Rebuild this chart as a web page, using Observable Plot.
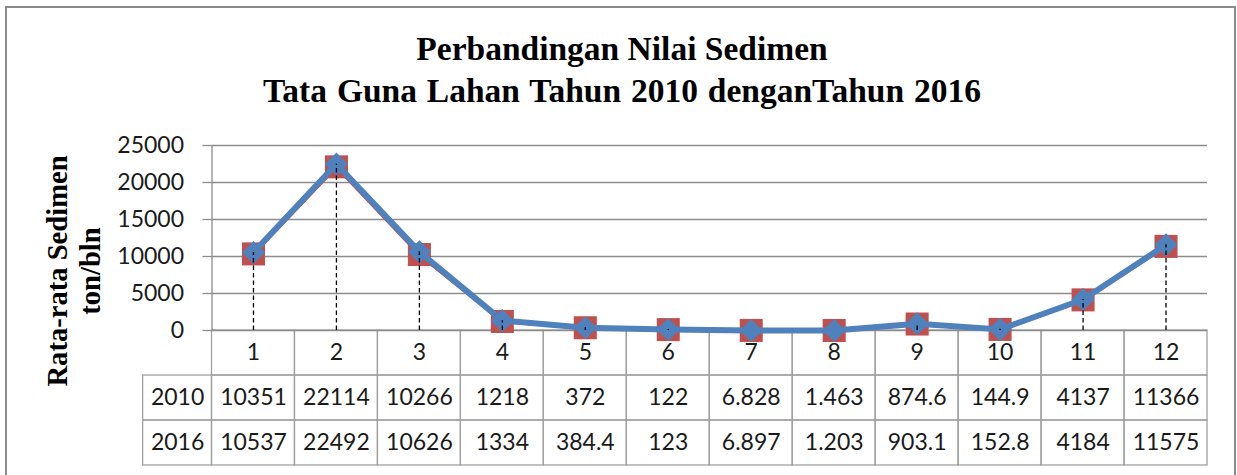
<!DOCTYPE html>
<html>
<head>
<meta charset="utf-8">
<script src="https://cdn.jsdelivr.net/npm/d3@7"></script>
<script src="https://cdn.jsdelivr.net/npm/@observablehq/plot@0.6"></script>
<style>
  html, body { margin: 0; padding: 0; background: #fff; }
  #wrap { position: relative; width: 1237px; height: 475px; overflow: hidden; background: #fff; }
  #frame { position: absolute; left: 5px; top: 6px; width: 1231px; height: 480px; border: 2px solid #8a8a8a; box-sizing: border-box; }
  .title { position: absolute; left: 0; width: 1244px; text-align: center; font-family: "Liberation Serif", serif; font-weight: bold; font-size: 33.5px; line-height: 42px; color: #000; white-space: nowrap; }
  #ylab { position: absolute; left: 74px; top: 271px; transform: translate(-50%, -50%) rotate(-90deg); font-family: "Liberation Serif", serif; font-weight: bold; font-size: 28.6px; line-height: 33px; text-align: center; white-space: nowrap; color: #000; }
  .layer { position: absolute; left: 0; }
  .layer svg { background: transparent !important; overflow: visible; }
</style>
</head>
<body>
<div id="wrap">
  <div id="frame"></div>
  <div class="title" id="t1" style="top:28px">Perbandingan Nilai Sedimen</div>
  <div class="title" id="t2" style="top:70px; word-spacing: 1.5px">Tata Guna Lahan Tahun 2010 denganTahun 2016</div>
  <div id="ylab">Rata-rata Sedimen<br>ton/bln</div>
  <div class="layer" id="table" style="top:330px"></div>
  <div class="layer" id="chart" style="top:0px"></div>
</div>
<script>
const categories = [1, 2, 3, 4, 5, 6, 7, 8, 9, 10, 11, 12];
const sed2010 = [10351, 22114, 10266, 1218, 372, 122, 6.828, 1.463, 874.6, 144.9, 4137, 11366];
const sed2016 = [10537, 22492, 10626, 1334, 384.4, 123, 6.897, 1.203, 903.1, 152.8, 4184, 11575];
const seriesNames = ["2010", "2016"];
const yTicks = [0, 5000, 10000, 15000, 20000, 25000];

const RED = "#C0504D", BLUE = "#4F81BD";
const FONT = "Lato, 'Open Sans', sans-serif";
const W = 1237, ML = 211.5, MR = 30;

const d2010 = categories.map((c, i) => ({cat: c, v: sed2010[i]}));
const d2016 = categories.map((c, i) => ({cat: c, v: sed2016[i]}));
const drops = categories.map((c, i) => ({cat: c, top: Math.max(sed2010[i], sed2016[i])}));

const chart = Plot.plot({
  width: W, height: 475,
  marginLeft: ML, marginRight: MR, marginTop: 145, marginBottom: 145,
  style: {background: "transparent", overflow: "visible", fontFamily: FONT},
  x: {type: "linear", domain: [0.5, 12.5], axis: null},
  y: {domain: [0, 25000], axis: null},
  marks: [
    Plot.ruleY(yTicks, {stroke: "#8c8c8c", strokeWidth: 1.3, x1: 0.5, x2: 12.5}),
    Plot.axisY({ticks: yTicks, tickSize: 9, tickPadding: 19, stroke: "#8c8c8c", strokeWidth: 1.3, fontSize: 23, fontFamily: FONT, fill: "#1a1a1a", tickFormat: d => String(d), label: null}),
    Plot.ruleX([0.5], {y1: 0, y2: 25000, stroke: "#8c8c8c", strokeWidth: 1.3}),
    Plot.line(d2010, {x: "cat", y: "v", stroke: RED, strokeWidth: 3.5}),
    Plot.dot(d2010, {x: "cat", y: "v", symbol: "square", r: 13, fill: RED, stroke: null}),
    Plot.line(d2016, {x: "cat", y: "v", stroke: BLUE, strokeWidth: 6}),
    Plot.dot(d2016, {x: "cat", y: "v", symbol: "square", rotate: 45, r: 9.2, fill: BLUE, stroke: null}),
    Plot.ruleX(drops, {x: "cat", y1: 0, y2: "top", stroke: "#000", strokeWidth: 1.3, strokeDasharray: "4.5,3"})
  ]
});
document.getElementById("chart").appendChild(chart);

// data table under the category axis
const labelColWidth = 0.83; // width of row-label column, in category units
const cells = [];
categories.forEach(c => cells.push({x1: c - 0.5, x2: c + 0.5, r: 0}));
seriesNames.forEach((s, j) => {
  cells.push({x1: 0.5 - labelColWidth, x2: 0.5, r: j + 1});
  categories.forEach(c => cells.push({x1: c - 0.5, x2: c + 0.5, r: j + 1}));
});
const texts = [];
categories.forEach(c => texts.push({x: c, r: 0, t: String(c)}));
[sed2010, sed2016].forEach((arr, j) => {
  texts.push({x: 0.5 - labelColWidth / 2, r: j + 1, t: seriesNames[j]});
  arr.forEach((v, i) => texts.push({x: categories[i], r: j + 1, t: String(v)}));
});

const table = Plot.plot({
  width: W, height: 145,
  marginLeft: ML, marginRight: MR, marginTop: 0, marginBottom: 10,
  style: {background: "transparent", overflow: "visible", fontFamily: FONT},
  x: {type: "linear", domain: [0.5, 12.5], axis: null},
  y: {type: "linear", domain: [0, 3], range: [0, 135], axis: null},
  marks: [
    Plot.rect(cells, {x1: "x1", x2: "x2", y1: "r", y2: d => d.r + 1, fill: "none", stroke: "#a0a0a0", strokeWidth: 1.3}),
    Plot.text(texts, {x: "x", y: d => d.r + 0.5, text: "t", fontSize: 23, fontFamily: FONT, fill: "#1a1a1a", textAnchor: "middle", lineAnchor: "middle"})
  ]
});
document.getElementById("table").appendChild(table);
</script>
</body>
</html>
